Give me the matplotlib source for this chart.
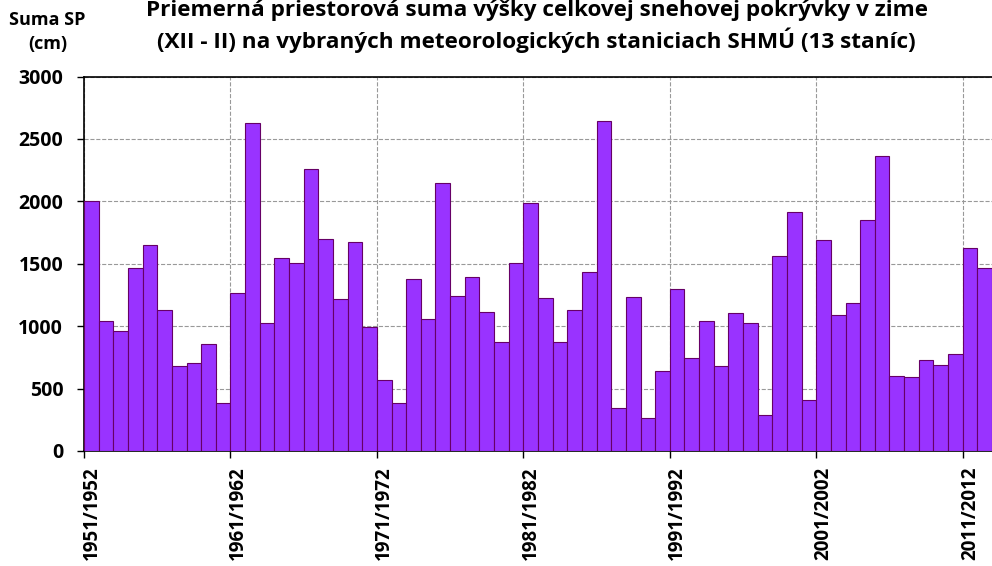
import matplotlib.pyplot as plt
import numpy as np

# winter seasons 1951/1952 .. 2012/2013
start_years = list(range(1951, 2013))
seasons = [f"{y}/{y + 1}" for y in start_years]

# average spatial sum of snow cover depth (cm)
snow_sum = [
    2000, 1040, 960, 1470, 1650, 1127, 678, 708, 857, 382,
    1263, 2630, 1025, 1549, 1509, 2256, 1701, 1215, 1677, 993,
    571, 382, 1375, 1060, 2147, 1239, 1396, 1113, 870, 1503,
    1986, 1226, 870, 1129, 1431, 2641, 342, 1231, 262, 641,
    1300, 742, 1041, 681, 1103, 1023, 288, 1565, 1912, 406,
    1693, 1092, 1185, 1850, 2366, 603, 593, 732, 689, 780,
    1623, 1463,
]

y_ticks = [0, 500, 1000, 1500, 2000, 2500, 3000]

title = ("Priemerná priestorová suma výšky celkovej snehovej pokrývky v zime\n"
         "(XII - II) na vybraných meteorologických staniciach SHMÚ (13 staníc)")

plt.rcParams['font.family'] = ['Open Sans', 'DejaVu Sans']

fig = plt.figure(figsize=(9.92, 5.66), dpi=100)
ax = fig.add_axes([0.0847, 0.2032, 0.9153, 0.6616])

x = np.arange(len(snow_sum))
ax.bar(x, snow_sum, width=1.0, color='#9933FF', edgecolor='#660066',
       linewidth=0.8, zorder=3)

ax.set_xlim(-0.5, len(snow_sum) - 0.5)
ax.set_ylim(0, 3000)
ax.set_yticks(y_ticks)
ax.set_yticklabels([str(v) for v in y_ticks], fontsize=14, fontweight='bold')

# major ticks on category boundaries (grid + tick marks), labels on minor ticks
ax.set_xticks(np.arange(-0.5, len(snow_sum), 10))
ax.set_xticklabels([])
label_pos = np.arange(0, len(snow_sum), 10)
ax.set_xticks(label_pos, minor=True)
ax.set_xticklabels([seasons[i] for i in label_pos], minor=True, rotation=90,
                   fontsize=13.5, fontweight='bold')
ax.tick_params(axis='x', which='minor', length=0, pad=11)
ax.tick_params(axis='x', which='major', length=5, width=1, direction='out')
ax.tick_params(axis='y', length=5, width=1, direction='out', pad=10)

ax.grid(True, which='major', linestyle='--', color='#999999', linewidth=0.8,
        zorder=0)
ax.set_axisbelow(True)

for side in ['left', 'bottom', 'top']:
    ax.spines[side].set_color('black')
    ax.spines[side].set_linewidth(1.2)
ax.spines['right'].set_visible(False)

fig.text(0.541, 0.953, title, ha='center', va='center', fontsize=16.2,
         fontweight='bold', linespacing=1.3)
fig.text(0.048, 0.943, "Suma SP\n(cm)", ha='center', va='center',
         fontsize=13, fontweight='bold', linespacing=1.4)

plt.savefig('out.png', dpi=100)
plt.close()
